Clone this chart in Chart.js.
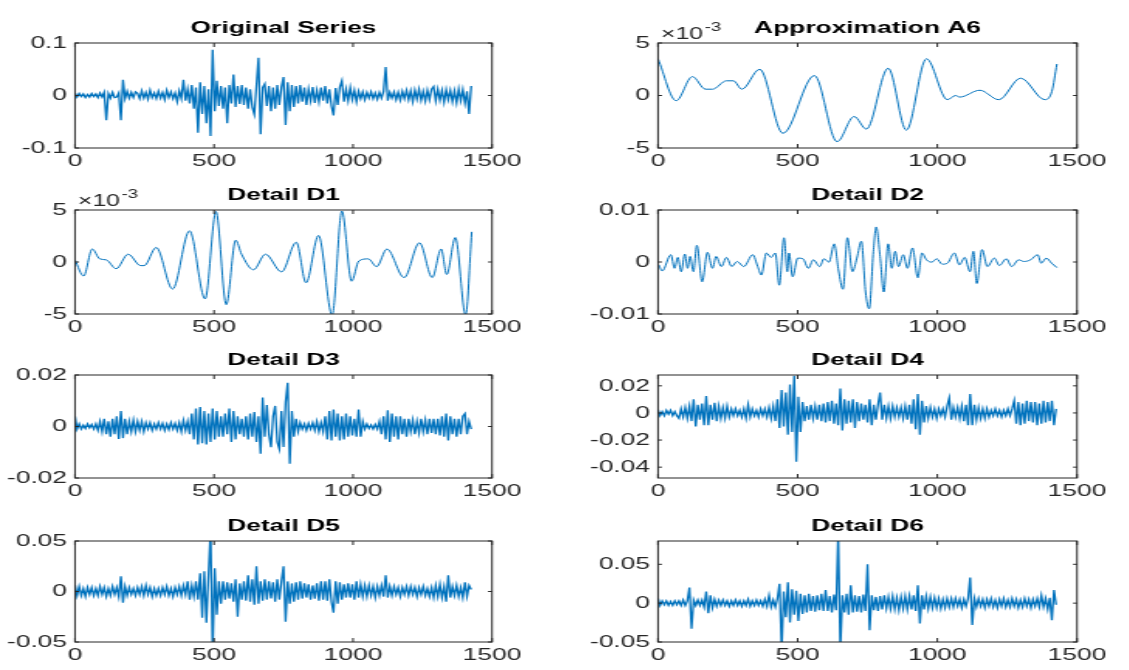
<!DOCTYPE html>
<html>
<head>
<meta charset="utf-8">
<script src="https://cdn.jsdelivr.net/npm/chart.js@4.4.0/dist/chart.umd.min.js"></script>
<style>
  body { margin: 0; background: #fff; width: 1129px; height: 670px; overflow: hidden; position: relative; }
  canvas { position: absolute; }
</style>
</head>
<body>
<script>
// --- data ---
// noisy series: one value every STEP samples (x = 0 .. 1425)
const STEP = 7.5;

const original = [
  .005,-.003,.004,-.002,.003,-.004,.002,-.003,.004,-.002,
  .003,-.004,.005,-.003,.006,-.047,.004,-.005,.006,-.004,
  -.003,.005,-.047,.030,-.006,.008,-.005,.006,-.004,.007,
  .004,-.006,.009,-.005,.006,-.007,.010,-.004,.005,-.006,
  .008,-.005,.006,-.008,.010,-.004,.007,-.006,.005,-.012,
  .009,-.006,.030,-.010,.012,-.015,.020,-.025,.015,-.071,
  .025,-.035,.018,-.053,.012,-.077,.087,-.030,.028,-.020,
  .018,-.025,.015,-.053,.020,-.015,.040,-.022,.018,-.016,
  .020,-.018,.015,-.025,.012,-.022,-.036,.018,.072,-.074,
  .015,.022,-.020,.018,-.030,.015,-.025,.020,-.018,.016,
  .035,-.056,.025,-.030,.020,-.022,.018,-.015,.020,-.012,
  .015,-.018,.012,-.010,.016,-.014,.010,-.012,.015,-.010,
  .018,-.015,.012,-.020,-.038,.014,-.018,.016,.028,-.012,
  .012,-.010,.015,-.008,.010,-.012,.008,-.006,.007,-.008,
  .006,-.005,.007,-.006,.005,-.007,.006,-.005,.008,.054,
  -.010,.006,-.005,.007,-.008,.006,-.009,.008,-.006,.010,
  -.008,.009,-.012,.010,-.007,.012,-.009,.008,-.011,.010,
  -.008,.012,.017,-.010,.012,-.009,.010,-.013,.011,-.008,
  .010,-.012,.009,-.014,.012,-.010,.011,-.015,.008,-.035,
  .018
];

// approximation A6 (x10^-3), at its turning points
const a6X = [0, 65, 123, 170, 195, 245, 270, 300, 364, 447, 560, 641, 702, 746, 824, 889, 961, 1036, 1065, 1080, 1152, 1220, 1298, 1385, 1410, 1428];
const a6Y = [3.5, -0.5, 1.8, 0.6, 0.6, 1.4, 1.4, 0.6, 2.5, -3.6, 1.9, -4.4, -2.0, -3.2, 2.6, -3.3, 3.5, -0.4, 0.0, -0.15, 0.5, -0.4, 1.65, -0.4, 0.4, 3.0];

// detail D1 (x10^-3)
const d1X = [0, 31, 62, 89, 113, 148, 191, 236, 249, 292, 351, 412, 468, 507, 544, 578, 599, 642, 685, 743, 796, 831, 876, 925, 960, 995, 1021, 1055, 1085, 1122, 1184, 1239, 1285, 1317, 1337, 1368, 1405, 1427];
const d1Y = [0.2, -1.35, 1.25, 0.3, 0.2, -0.65, 0.75, -0.35, -0.35, 1.4, -2.6, 3.0, -3.55, 4.85, -4.1, 2.1, 0.75, -0.75, 0.75, -0.95, 1.9, -2.0, 2.55, -5.1, 4.9, -1.85, 0.1, 0.3, -0.45, 1.25, -1.5, 1.85, -1.5, 1.25, -1.2, 2.35, -5.1, 2.9];

// detail D2 (x10^-3), turning points
const d2X = [3,15,46,59,71,83,96,106,115,127, 139,158,177,195,208,227,245,264,283,307,
  339,357,370,388,405,420,434,451,463,469, 482,500,519,538,556,579,594,612,631,646,
  662,678,696,712,728,743,756,771,781,795, 808,824,837,849,861,878,893,911,930,945,
  961,980,998,1017,1036,1061,1079,1098,1117,1129, 1141,1160,1179,1204,1222,1247,1266,1291,1310,1334,
  1359,1372,1390,1409,1428];
const d2Y = [-0.55,-1.73,1.40,-1.21,0.88,-1.86,1.53,-1.21,1.07,-1.86, 3.22,-3.81,1.86,-1.21,1.07,-0.88,0.88,-0.88,0.10,-0.88,
  1.40,-0.88,-2.51,1.73,0.88,1.73,-4.46,4.66,-1.86,1.73, -2.83,0.75,0.62,-1.21,0.42,-0.88,0.62,-0.03,3.49,-1.53,
  -5.24,4.66,-1.86,0.75,4.0,-5.77,-9.0,2.05,6.74,1.07, -5.77,3.49,-1.21,2.05,-0.88,1.40,-1.21,2.70,-3.03,1.73,
  0.42,-0.03,0.62,-0.42,-0.23,1.73,-0.55,0.88,-1.86,2.05, -4.14,2.38,-0.88,0.75,-0.68,0.62,-0.88,0.42,0.10,0.42,
  1.40,-0.23,0.75,-0.23,-1.07];

const d3 = [
  .004,-.001,.001,-.001,.0005,-.0008,.001,-.0005,.0008,-.001,
  .001,-.0015,.002,-.002,.003,-.003,.002,-.004,.003,-.003,
  .004,-.0048,.006,-.0045,.003,-.003,.002,-.002,.0025,-.002,
  .002,-.0015,.002,-.002,.0015,-.001,.0015,-.0015,.001,-.001,
  .0015,-.001,.0012,-.0015,.001,-.0012,.0015,-.001,.0012,-.0015,
  .0015,-.002,.0024,-.0015,.002,-.003,.005,-.005,.007,-.007,
  .0076,-.0065,.006,-.007,.005,-.006,.007,-.005,.006,-.004,
  .004,-.004,.005,-.003,.007,-.006,.006,-.005,.004,-.003,
  .003,-.004,.004,-.005,.005,-.004,.0056,-.006,.004,-.0106,
  .0113,-.004,.0083,-.003,-.008,.004,.008,-.006,-.0087,.006,
  -.008,.0095,.017,-.0145,.006,-.004,.003,-.002,.0015,-.001,
  .001,-.0015,.0012,-.001,.0015,-.0015,.002,-.002,.0015,-.002,
  .004,-.005,.006,-.0054,.0066,-.004,.005,-.0054,.004,-.005,
  .005,-.004,.004,-.0035,.003,-.004,.0066,-.004,.002,-.001,
  .001,-.0008,.0006,-.001,.0008,-.001,.002,-.003,.004,-.005,
  .0063,-.006,.005,-.004,.004,-.005,.004,-.003,.003,-.004,
  .003,-.002,.0025,-.003,.002,-.0025,.003,-.002,.0025,-.003,
  .003,-.0025,.003,-.003,.003,-.0035,.004,-.004,.005,-.0054,
  .004,-.003,.003,-.004,.003,-.003,.004,.005,-.003,.002,
  -.001
];

const d4 = [
  .0025,-.002,.001,-.002,.002,-.001,.002,-.002,.001,-.002,
  -.004,.003,-.003,.004,-.004,.005,-.006,.010,-.010,.006,
  -.005,.007,-.009,.0125,-.009,.006,-.005,.0075,-.006,.005,
  -.004,.004,-.004,.005,-.003,.003,-.002,.003,-.002,.002,
  -.003,.003,-.004,.006,-.003,.003,-.002,.002,-.003,.003,
  -.002,.003,-.003,.004,-.004,.005,-.006,.010,-.011,.017,
  -.010,.015,-.016,.021,-.014,.0275,-.036,.012,-.014,.008,
  -.006,.005,-.005,.006,-.004,.005,-.005,.006,-.006,.007,
  -.007,.008,-.006,.009,-.008,.007,-.009,.018,-.013,.010,
  -.008,.009,-.007,.010,-.011,.008,-.006,.007,-.005,.006,
  -.007,.010,-.009,.006,-.005,.006,.015,-.005,.006,-.004,
  .005,-.004,.005,-.003,.004,-.003,.004,-.004,.005,-.005,
  .006,-.008,.010,-.012,.014,-.016,.009,-.007,.005,-.004,
  .004,-.003,.003,-.004,.003,-.002,.003,-.003,.005,.011,
  -.005,.004,-.003,.004,-.004,.005,-.006,.006,-.009,.014,
  -.009,.006,-.005,.004,-.004,.003,-.004,.003,-.003,.002,
  -.002,.003,-.002,.002,-.003,.002,-.002,.003,-.002,.003,
  .009,-.008,.008,-.009,.007,-.008,.009,-.006,.008,-.007,
  .008,-.009,.007,-.008,.009,-.007,.008,-.006,.009,-.009,
  .003
];

const d5 = [
  .0065,-.004,.005,-.004,.003,-.005,.004,-.003,.004,-.004,
  .003,-.004,.005,-.003,.004,-.005,.003,-.004,.005,-.003,
  .004,-.005,.015,-.011,.005,-.004,.004,-.003,.003,-.004,
  .004,-.003,.005,-.004,.006,-.003,.004,-.005,.003,-.004,
  .003,-.004,.004,-.003,.005,-.004,.003,-.005,.004,-.003,
  .005,-.004,.006,-.003,.010,-.008,.006,-.005,.010,-.008,
  .018,-.026,.020,-.031,.015,.060,-.060,.023,-.023,.010,
  -.012,.010,-.008,.009,-.007,.008,-.010,.012,-.025,.008,
  -.008,.010,-.009,.016,-.010,.012,-.013,.025,-.012,.010,
  -.009,.012,-.008,.010,-.007,.009,-.010,.012,-.008,.010,
  .025,-.030,.010,-.012,.008,-.010,.009,-.008,.010,-.007,
  .008,-.006,.007,-.008,.006,-.007,.008,-.009,.010,-.008,
  .010,-.009,.012,-.010,-.021,.010,-.012,.009,-.008,.007,
  -.006,.008,-.006,.007,-.008,.010,-.006,.007,-.005,.006,
  -.005,.006,-.004,.005,-.006,.005,-.004,.006,-.005,.016,
  -.006,.005,-.004,.005,-.003,.004,-.005,.004,-.003,.005,
  -.004,.005,-.003,.004,-.005,.004,-.003,.005,-.004,.003,
  -.005,.004,-.006,.006,-.005,.007,-.006,.005,-.010,.016,
  -.006,.005,-.004,.006,-.005,.004,-.006,.009,-.005,.006,
  .002
];

const d6 = [
  .006,-.003,.003,-.002,.003,-.003,.002,-.003,.003,-.002,
  .003,-.003,.004,-.003,.003,.020,-.033,.004,-.003,.004,
  -.003,.004,-.005,.015,-.013,.010,-.006,.005,-.004,.004,
  -.003,.004,-.003,.003,-.004,.003,-.003,.004,-.003,.003,
  -.004,.003,-.003,.005,-.004,.003,-.003,.004,-.003,.003,
  -.004,.005,-.004,.010,-.005,.004,-.005,.006,.025,-.060,
  .015,-.018,.027,-.025,.018,-.015,.016,-.023,.012,-.014,
  .010,-.012,.012,-.010,.009,-.011,.010,-.009,.012,-.010,
  .017,-.010,.009,-.012,.011,-.009,.090,-.060,.010,-.012,
  .012,-.015,.023,-.012,.010,-.011,.009,-.012,.011,-.010,
  .050,-.035,.010,-.009,.008,-.010,.009,-.008,.010,-.007,
  .008,-.007,.009,-.008,.007,-.009,.008,-.007,.009,-.008,
  .009,-.008,.010,-.010,.023,-.026,.010,-.008,.009,-.007,
  .008,-.006,.007,-.006,.006,-.007,.005,-.006,.006,-.005,
  .006,-.005,.006,-.004,.005,-.006,.005,-.004,.006,.033,
  -.028,.006,-.005,.006,-.004,.005,-.006,.005,-.004,.006,
  -.005,.004,-.006,.005,-.004,.006,-.005,.004,-.005,.006,
  -.004,.005,-.006,.004,-.005,.006,-.004,.005,-.006,.005,
  -.004,.006,-.005,.010,-.005,.006,-.008,.007,-.022,.017,
  -.002
];

const X_TICKS = [0, 500, 1000, 1500];

// --- layout (page pixels) ---
const SX = 1.55;              // the reference is stretched sideways
const COLS = [{ left: 75, right: 492 }, { left: 658, right: 1077 }];
const ROWS = [{ top: 43, bottom: 148 }, { top: 210, bottom: 314 }, { top: 375, bottom: 478 }, { top: 541, bottom: 642 }];
const PAD_L = 75, PAD_R = 50, PAD_T = 40, PAD_B = 28;
const BLUE = '#0072BD';
const AXIS = '#262626';
const FONT = '"Liberation Sans", Arial, Helvetica, sans-serif';

const byStep = vals => vals.map((v, i) => ({ x: i * STEP, y: v }));
const byX = (xs, ys, k = 1) => xs.map((x, i) => ({ x: x, y: ys[i] * k }));
const fmt = v => String(+Number(v).toFixed(4));

const panels = [
  { title: 'Original Series', col: 0, row: 0, data: byStep(original), yMin: -0.1, yMax: 0.1, yTicks: [-0.1, 0, 0.1] },
  { title: 'Approximation A6', col: 1, row: 0, data: byX(a6X, a6Y), yMin: -5, yMax: 5, yTicks: [-5, 0, 5], exp: true, smooth: true },
  { title: 'Detail D1', col: 0, row: 1, data: byX(d1X, d1Y), yMin: -5, yMax: 5, yTicks: [-5, 0, 5], exp: true, smooth: true },
  { title: 'Detail D2', col: 1, row: 1, data: byX(d2X, d2Y, 1e-3), yMin: -0.01, yMax: 0.01, yTicks: [-0.01, 0, 0.01], smooth: true },
  { title: 'Detail D3', col: 0, row: 2, data: byStep(d3), yMin: -0.02, yMax: 0.02, yTicks: [-0.02, 0, 0.02] },
  { title: 'Detail D4', col: 1, row: 2, data: byStep(d4), yMin: -0.048, yMax: 0.028, yTicks: [-0.04, -0.02, 0, 0.02] },
  { title: 'Detail D5', col: 0, row: 3, data: byStep(d5), yMin: -0.05, yMax: 0.05, yTicks: [-0.05, 0, 0.05] },
  { title: 'Detail D6', col: 1, row: 3, data: byStep(d6), yMin: -0.05, yMax: 0.08, yTicks: [-0.05, 0, 0.05] }
];

// box, inward ticks, title and the x10^-3 factor
const frame = {
  id: 'frame',
  afterDraw(chart, args, opts) {
    const { ctx, chartArea: a, scales } = chart;
    const sx = opts.sx;
    ctx.save();
    ctx.strokeStyle = AXIS;
    ctx.lineWidth = 1;
    ctx.strokeRect(a.left, a.top, a.right - a.left, a.bottom - a.top);
    ctx.beginPath();
    scales.x.ticks.forEach(t => {
      const px = scales.x.getPixelForValue(t.value);
      ctx.moveTo(px, a.bottom); ctx.lineTo(px, a.bottom - 4);
      ctx.moveTo(px, a.top); ctx.lineTo(px, a.top + 4);
    });
    scales.y.ticks.forEach(t => {
      const py = scales.y.getPixelForValue(t.value);
      ctx.moveTo(a.left, py); ctx.lineTo(a.left + 4 / sx, py);
      ctx.moveTo(a.right, py); ctx.lineTo(a.right - 4 / sx, py);
    });
    ctx.stroke();

    ctx.fillStyle = '#000';
    ctx.font = 'bold 17px ' + FONT;
    ctx.textAlign = 'center';
    ctx.textBaseline = 'alphabetic';
    ctx.fillText(opts.title, (a.left + a.right) / 2, a.top - 10);

    if (opts.exp) {
      ctx.fillStyle = AXIS;
      ctx.textAlign = 'left';
      ctx.font = '16px ' + FONT;
      const x0 = a.left + 3 / sx;
      ctx.fillText('\u00d710', x0, a.top - 4);
      const w = ctx.measureText('\u00d710').width;
      ctx.font = '12px ' + FONT;
      ctx.fillText('-3', x0 + w + 1, a.top - 12);
    }
    ctx.restore();
  }
};

panels.forEach(p => {
  const col = COLS[p.col], row = ROWS[p.row];
  const pageW = (col.right - col.left) + PAD_L + PAD_R;
  const pageH = (row.bottom - row.top) + PAD_T + PAD_B;
  const cv = document.createElement('canvas');
  cv.width = Math.round(pageW / SX);
  cv.height = pageH;
  cv.style.left = (col.left - PAD_L) + 'px';
  cv.style.top = (row.top - PAD_T) + 'px';
  cv.style.width = pageW + 'px';
  cv.style.height = pageH + 'px';
  document.body.appendChild(cv);
  const sx = pageW / cv.width;

  new Chart(cv, {
    type: 'line',
    data: {
      datasets: [{
        data: p.data,
        borderColor: BLUE,
        borderWidth: p.smooth ? 1 : 1.3,
        pointRadius: 0,
        fill: false,
        tension: 0,
        cubicInterpolationMode: p.smooth ? 'monotone' : 'default'
      }]
    },
    options: {
      responsive: false,
      animation: false,
      devicePixelRatio: 1,
      events: [],
      layout: { padding: { left: 0, right: PAD_R / sx, top: PAD_T, bottom: 0 } },
      plugins: {
        legend: { display: false },
        tooltip: { enabled: false },
        frame: { title: p.title, exp: p.exp, sx: sx }
      },
      scales: {
        x: {
          type: 'linear', min: 0, max: 1500,
          grid: { display: false, drawTicks: false },
          border: { display: false },
          afterBuildTicks: s => { s.ticks = X_TICKS.map(v => ({ value: v })); },
          afterFit: s => { s.height = PAD_B; },
          ticks: { color: AXIS, font: { family: FONT, size: 17 }, padding: 3, maxRotation: 0, autoSkip: false, callback: fmt }
        },
        y: {
          type: 'linear', min: p.yMin, max: p.yMax,
          grid: { display: false, drawTicks: false },
          border: { display: false },
          afterBuildTicks: s => { s.ticks = p.yTicks.map(v => ({ value: v })); },
          afterFit: s => { s.width = PAD_L / sx; },
          ticks: { color: AXIS, font: { family: FONT, size: 17 }, padding: 8 / sx, autoSkip: false, callback: fmt }
        }
      }
    },
    plugins: [frame]
  });
});
</script>
</body>
</html>
